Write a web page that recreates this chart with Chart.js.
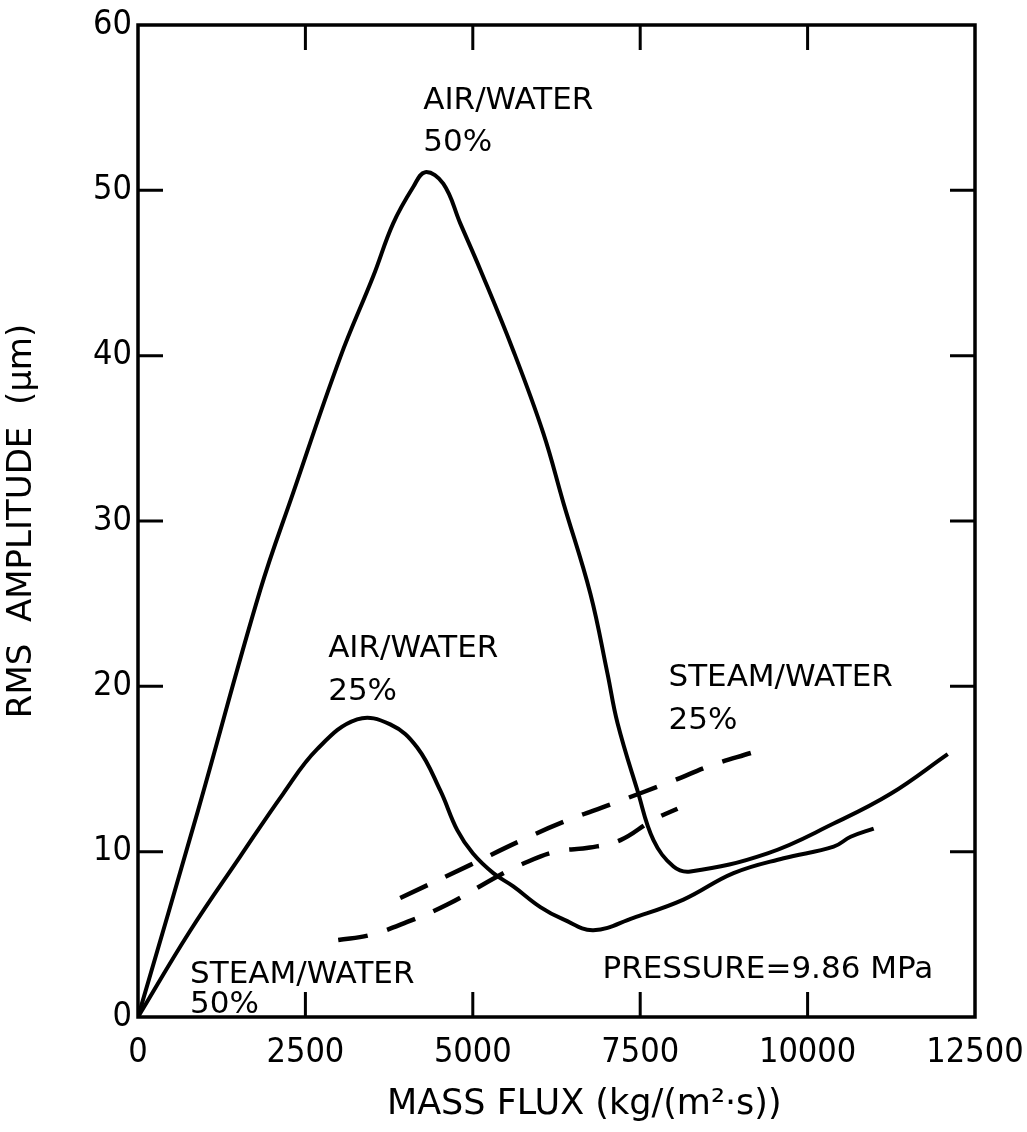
<!DOCTYPE html>
<html>
<head>
<meta charset="utf-8">
<script src="https://cdn.jsdelivr.net/npm/chart.js@4.4.1/dist/chart.umd.min.js"></script>
<style>
  html, body { margin: 0; padding: 0; background: #fff; }
</style>
</head>
<body>
<canvas id="fluxChart" width="1027" height="1132"></canvas>
<script>
// values: mass flux (kg/(m2 s)) vs rms amplitude (um)
const airWater50Flux = [0, 897, 1824, 2317, 3020, 3513, 3811, 4110, 4290, 4559, 4813, 5112, 5605, 6054, 6353, 6756, 7010, 7160, 7459, 7698, 7997, 8251, 9402, 10389, 11240, 12093];
const airWater50Amp  = [0, 12.5, 25.8, 31.7, 39.9, 44.8, 48.0, 50.2, 51.1, 50.4, 48.0, 45.2, 40.3, 35.3, 31.1, 25.6, 20.8, 17.8, 13.7, 10.7, 9.1, 8.8, 9.9, 11.7, 13.5, 15.9];

const airWater25Flux = [0, 777, 1525, 2167, 2676, 3273, 3767, 4170, 4514, 4768, 5000, 5306, 5605, 6009, 6353, 6800, 7399, 8146, 8894, 9641, 10389, 10643, 10987];
const airWater25Amp  = [0, 5.2, 9.7, 13.5, 16.2, 18.0, 17.7, 16.3, 13.7, 11.3, 9.9, 8.7, 7.9, 6.65, 5.9, 5.25, 6.0, 7.1, 8.7, 9.6, 10.3, 10.9, 11.4];

const steamWater25Flux = [3916, 4963, 5680, 6353, 7085, 7997, 8550, 9178];
const steamWater25Amp  = [7.2, 9.2, 10.6, 11.8, 12.9, 14.3, 15.2, 16.0];

const steamWater50Flux = [2990, 3468, 4021, 4619, 5366, 5710, 6233, 6750, 7205, 7683, 8057];
const steamWater50Amp  = [4.66, 4.96, 5.75, 6.8, 8.5, 9.2, 10.0, 10.25, 10.7, 11.9, 12.6];

const xTicks = [0, 2500, 5000, 7500, 10000, 12500];
const yTicks = [0, 10, 20, 30, 40, 50, 60];

// text notes, anchored at the baseline-left in data units
const notes = [
  { x: 4260, y: 54.9, lines: ['AIR/WATER', '50%'], gap: 42 },
  { x: 2840, y: 21.8, lines: ['AIR/WATER', '25%'], gap: 43 },
  { x: 7922, y: 20.0, lines: ['STEAM/WATER', '25%'], gap: 43 },
  { x: 777,  y: 2.06, lines: ['STEAM/WATER', '50%'], gap: 30 },
  { x: 6936, y: 2.36, lines: ['PRESSURE=9.86 MPa'], gap: 0 }
];

function pairs(xs, ys) {
  return xs.map((v, i) => ({ x: v, y: ys[i] }));
}

function series(xs, ys, dashed) {
  return {
    data: pairs(xs, ys),
    borderColor: '#000',
    borderWidth: dashed ? 4.5 : 4,
    borderDash: dashed ? [30, 20] : [],
    pointRadius: 0,
    fill: false,
    tension: 0.4
  };
}

// frame, inward ticks on all four sides, and the text notes
const frameAndNotes = {
  id: 'frameAndNotes',
  afterDraw(chart) {
    const { ctx, chartArea: a, scales: { x, y } } = chart;
    ctx.save();
    ctx.strokeStyle = '#000';
    ctx.lineWidth = 3.5;
    ctx.strokeRect(a.left, a.top, a.right - a.left, a.bottom - a.top);

    ctx.lineWidth = 3;
    ctx.beginPath();
    xTicks.slice(1, -1).forEach(v => {
      const px = x.getPixelForValue(v);
      ctx.moveTo(px, a.bottom); ctx.lineTo(px, a.bottom - 25);
      ctx.moveTo(px, a.top); ctx.lineTo(px, a.top + 25);
    });
    yTicks.slice(1, -1).forEach(v => {
      const py = y.getPixelForValue(v);
      ctx.moveTo(a.left, py); ctx.lineTo(a.left + 25, py);
      ctx.moveTo(a.right, py); ctx.lineTo(a.right - 25, py);
    });
    ctx.stroke();

    ctx.fillStyle = '#000';
    ctx.font = '31px "DejaVu Sans"';
    ctx.textAlign = 'left';
    ctx.textBaseline = 'alphabetic';
    notes.forEach(n => {
      const px = x.getPixelForValue(n.x);
      const py = y.getPixelForValue(n.y);
      n.lines.forEach((t, i) => ctx.fillText(t, px, py + i * n.gap));
    });
    ctx.restore();
  }
};

const tickFont = { family: '"Liberation Sans Narrow", "DejaVu Sans Condensed", sans-serif', size: 34 };
const plainTick = v => String(v);

const ctx = document.getElementById('fluxChart').getContext('2d');
const fluxChart = new Chart(ctx, {
  type: 'line',
  data: {
    datasets: [
      series(airWater50Flux, airWater50Amp, false),
      series(airWater25Flux, airWater25Amp, false),
      series(steamWater25Flux, steamWater25Amp, true),
      series(steamWater50Flux, steamWater50Amp, true)
    ]
  },
  options: {
    responsive: false,
    animation: false,
    devicePixelRatio: 1,
    layout: { padding: { left: 0, top: 25, right: 52, bottom: 0 } },
    plugins: {
      legend: { display: false },
      tooltip: { enabled: false }
    },
    scales: {
      x: {
        type: 'linear',
        min: 0,
        max: 12500,
        afterFit: s => { s.height = 115; s.paddingLeft = 0; s.paddingRight = 0; },
        afterBuildTicks: s => { s.ticks = xTicks.map(v => ({ value: v })); },
        grid: { display: false, drawTicks: false },
        border: { display: false },
        ticks: { color: '#000', font: tickFont, padding: 16, maxRotation: 0, callback: plainTick },
        title: {
          display: true,
          text: '     MASS FLUX (kg/(m²·s))',
          color: '#000',
          font: { family: '"DejaVu Sans", sans-serif', size: 35 },
          padding: { top: 0, bottom: 6 }
        }
      },
      y: {
        type: 'linear',
        min: 0,
        max: 60,
        afterFit: s => { s.width = 138; s.paddingTop = 0; s.paddingBottom = 0; },
        afterBuildTicks: s => { s.ticks = yTicks.map(v => ({ value: v })); },
        grid: { display: false, drawTicks: false },
        border: { display: false },
        ticks: { color: '#000', font: tickFont, padding: 6, callback: plainTick },
        title: {
          display: true,
          text: 'RMS  AMPLITUDE  (μm)',
          color: '#000',
          font: { family: '"DejaVu Sans", sans-serif', size: 34 },
          padding: { top: 2, bottom: 0 }
        }
      }
    }
  },
  plugins: [frameAndNotes]
});
</script>
</body>
</html>
